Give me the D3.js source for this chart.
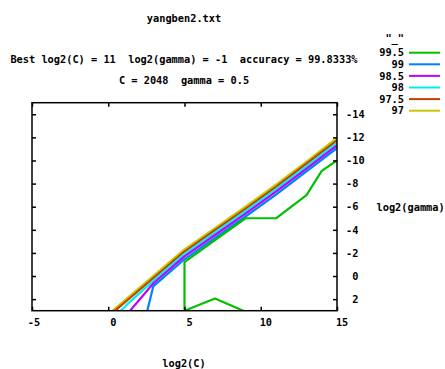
<!DOCTYPE html>
<html>
<head>
<meta charset="utf-8">
<script src="https://cdn.jsdelivr.net/npm/d3@7"></script>
<style>
  body { margin: 0; background: #fff; }
  text { font-family: "DejaVu Sans Mono", monospace; font-weight: bold; font-size: 10.3px; fill: #000; white-space: pre; }
</style>
</head>
<body>
<svg id="chart" width="445" height="369"></svg>
<script>
// contour levels (legend order) and their colours
const niveles = ["99.5", "99", "98.5", "98", "97.5", "97"];
const colores = ["#00c000", "#0080ff", "#c000ff", "#00eeee", "#c04000", "#c8c800"];

// each level: list of polylines in [log2(C), log2(gamma)]
const contorno995 = [
  [[5, 3], [5, -1.2], [7, -3.1], [9, -5], [11, -5], [13, -7], [14, -9.1], [15, -10]],
  [[5, 3], [7, 1.95], [8.85, 3]]
];
const contorno99 = [
  [[2.56, 3], [2.95, 0.9], [5, -1.45], [7, -3.3], [9, -5.15], [11, -7.05], [13, -9.05], [15, -11.08]]
];
const contorno985 = [
  [[1.43, 3], [2.85, 0.8], [3, 0.58], [5, -1.7], [7, -3.55], [9, -5.4], [11, -7.3], [13, -9.3], [15, -11.3]]
];
const contorno98 = [
  [[0.82, 3], [1.2, 2.5], [3, 0.35], [5, -1.92], [7, -3.77], [9, -5.62], [11, -7.52], [13, -9.52], [15, -11.52]]
];
const contorno975 = [
  [[0.45, 3], [1, 2.38], [3, 0.13], [5, -2.12], [7, -3.97], [9, -5.82], [11, -7.72], [13, -9.72], [15, -11.75]]
];
const contorno97 = [
  [[0.3, 3], [1, 2.2], [3, -0.05], [5, -2.3], [7, -4.15], [9, -6.0], [11, -7.9], [13, -9.9], [15, -11.95]]
];
const contornos = [contorno995, contorno99, contorno985, contorno98, contorno975, contorno97];

const ticksX = [-5, 0, 5, 10, 15];
const ticksY = [-14, -12, -10, -8, -6, -4, -2, 0, 2];

const tituloArchivo = "yangben2.txt";
const lineaMejor = "Best log2(C) = 11  log2(gamma) = -1  accuracy = 99.8333%";
const lineaValores = "C = 2048  gamma = 0.5";

const svg = d3.select("#chart");

const izq = 32, der = 337, arriba = 102.7, abajo = 310.7;

const x = d3.scaleLinear().domain([-5, 15]).range([izq, der]);
const y = d3.scaleLinear().domain([-15, 3]).range([arriba, abajo]);

// formato "% g" de gnuplot: espacio para positivos
const fmt = d => d < 0 ? String(d) : " " + d;

svg.append("defs").append("clipPath").attr("id", "recorte")
  .append("rect")
  .attr("x", izq).attr("y", arriba)
  .attr("width", der - izq).attr("height", abajo - arriba);

// contour lines
const linea = d3.line().x(d => x(d[0])).y(d => y(d[1]));
const gContornos = svg.append("g").attr("clip-path", "url(#recorte)");
// draw lowest level first so the band stacks like the reference
for (let i = contornos.length - 1; i >= 0; i--) {
  gContornos.selectAll(null)
    .data(contornos[i])
    .enter().append("path")
    .attr("d", linea)
    .attr("fill", "none")
    .attr("stroke", colores[i])
    .attr("stroke-width", 2.2)
    .attr("stroke-linejoin", "round");
}

// axes: ticks inward, labels bottom and right
const ejeAbajo = d3.axisBottom(x).tickValues(ticksX).tickSize(-4).tickPadding(8).tickFormat(fmt);
const ejeArriba = d3.axisTop(x).tickValues(ticksX).tickSize(-4).tickFormat("");
const ejeIzq = d3.axisLeft(y).tickValues(ticksY).tickSize(-4).tickFormat("");
const ejeDer = d3.axisRight(y).tickValues(ticksY).tickSize(-4).tickPadding(9).tickFormat(fmt);

function estilo(g) {
  g.select(".domain").remove();
  g.selectAll(".tick line").attr("stroke", "#000").attr("stroke-width", 1.5);
  g.selectAll("text").attr("font-family", null).attr("font-size", null);
}

svg.append("g").attr("transform", `translate(0,${abajo})`).call(ejeAbajo).call(estilo)
  .selectAll("text").attr("dx", 1.5);
svg.append("g").attr("transform", `translate(0,${arriba})`).call(ejeArriba).call(estilo);
svg.append("g").attr("transform", `translate(${izq},0)`).call(ejeIzq).call(estilo);
svg.append("g").attr("transform", `translate(${der},0)`).call(ejeDer).call(estilo);

svg.append("rect")
  .attr("x", izq).attr("y", arriba)
  .attr("width", der - izq).attr("height", abajo - arriba)
  .attr("fill", "none").attr("stroke", "#000").attr("stroke-width", 1.5);

// titles
svg.append("text").attr("x", 184).attr("y", 22).attr("text-anchor", "middle").text(tituloArchivo);
svg.append("text").attr("x", 184).attr("y", 62.5).attr("text-anchor", "middle").text(lineaMejor);
svg.append("text").attr("x", 184).attr("y", 83.5).attr("text-anchor", "middle").text(lineaValores);
svg.append("text").attr("x", 184).attr("y", 367).attr("text-anchor", "middle").text("log2(C)");
svg.append("text").attr("x", 376.5).attr("y", 210.5).text("log2(gamma)");

// legend
const leyenda = svg.append("g");
leyenda.append("text").attr("x", 404).attr("y", 42).attr("text-anchor", "end").text('"_"');
const filas = leyenda.selectAll(".fila").data(niveles).enter().append("g")
  .attr("transform", (d, i) => `translate(0,${52.7 + i * 11.6})`);
filas.append("text").attr("x", 404).attr("dy", "0.35em").attr("text-anchor", "end").text(d => d);
filas.append("line")
  .attr("x1", 409).attr("x2", 440)
  .attr("stroke", (d, i) => colores[i]).attr("stroke-width", 2);
</script>
</body>
</html>
